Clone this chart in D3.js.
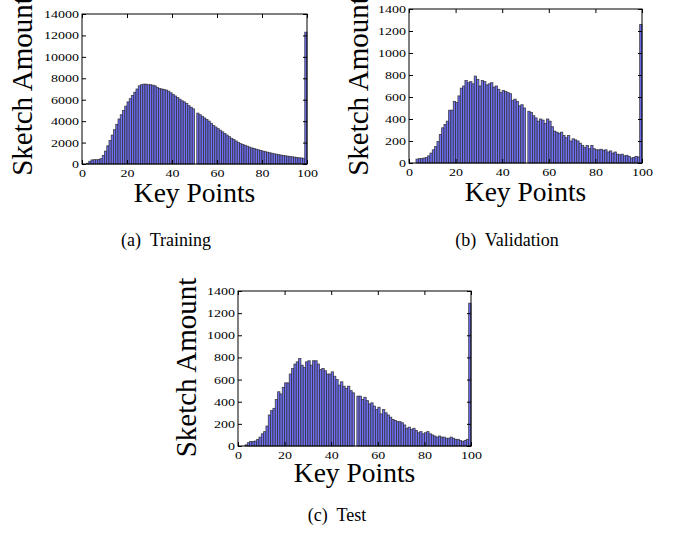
<!DOCTYPE html>
<html>
<head>
<meta charset="utf-8">
<script src="https://cdn.jsdelivr.net/npm/d3@7"></script>
<style>
  body { margin: 0; background: #fff; }
  svg { display: block; }
  text { font-family: "Liberation Serif", "Times New Roman", serif; fill: #000; }
</style>
</head>
<body>
<div id="chart"></div>
<script>
// Histogram counts per key point bin (bin i spans [i, i+1])
const trainCounts = [0,0,60,250,380,400,400,420,500,800,
  1200,1700,2200,2700,3200,3700,4200,4600,5000,5400,
  5800,6100,6400,6700,7000,7300,7400,7450,7450,7400,
  7400,7350,7300,7150,7050,7000,6950,6900,6800,6650,
  6500,6350,6200,6050,5900,5800,5650,5450,5300,5150,
  0,4750,4600,4450,4300,4150,4000,3800,3600,3450,
  3300,3150,3000,2850,2700,2550,2400,2280,2150,2020,
  1900,1820,1740,1660,1580,1500,1440,1380,1320,1260,
  1200,1150,1100,1050,1000,950,910,870,830,790,
  760,730,700,670,640,610,580,560,530,12300];

const valCounts = [0,0,0,35,40,40,45,50,65,90,
  120,150,195,260,320,350,380,480,480,560,
  550,610,680,700,750,730,740,720,790,760,
  700,750,740,710,720,730,690,700,670,640,
  660,650,640,630,570,580,560,520,530,500,
  0,470,460,430,410,380,400,390,360,400,
  380,330,290,280,270,280,250,230,250,200,
  220,210,200,180,160,140,160,130,160,130,
  120,120,125,115,120,100,110,90,100,80,
  75,80,65,70,60,45,50,60,55,1260];

const testCounts = [0,0,0,10,30,40,40,45,60,80,
  110,130,180,280,320,340,420,490,470,530,
  570,570,650,700,740,760,790,730,710,760,
  770,730,770,770,740,690,700,680,650,650,
  670,630,600,550,580,540,520,540,500,480,
  0,450,450,420,440,410,380,390,360,330,
  350,290,330,300,280,260,240,230,220,220,
  210,190,160,170,150,160,140,120,130,110,
  120,130,110,100,90,80,90,80,80,70,
  70,80,70,60,60,50,40,50,60,1290];

const xTicks = [0, 20, 40, 60, 80, 100];
const yTicksLarge = [0, 2000, 4000, 6000, 8000, 10000, 12000, 14000];
const yTicksSmall = [0, 200, 400, 600, 800, 1000, 1200, 1400];
const captions = ["(a)  Training", "(b)  Validation", "(c)  Test"];
const xTitle = "Key Points";
const yTitle = "Sketch Amount";

const width = 675, height = 535;

const svg = d3.select("#chart").append("svg")
  .attr("width", width)
  .attr("height", height);

// panel layout (pixel boxes of each plot area)
const panels = [
  { data: trainCounts, yMax: 14000, yTicks: yTicksLarge, caption: captions[0],
    left: 82, right: 307, top: 14, bottom: 164, yLabelX: 22, yLabelY: 86, titleY: 202, capX: 166, capY: 246 },
  { data: valCounts, yMax: 1400, yTicks: yTicksSmall, caption: captions[1],
    left: 409, right: 642, top: 9, bottom: 163, yLabelX: 358, yLabelY: 86, titleY: 201, capX: 507, capY: 246 },
  { data: testCounts, yMax: 1400, yTicks: yTicksSmall, caption: captions[2],
    left: 238, right: 471, top: 291, bottom: 446, yLabelX: 186, yLabelY: 367.5, titleY: 482, capX: 337, capY: 521 }
];

// stretch tick digits a little, like the reference
function stretchLabels(sel) {
  sel.selectAll(".tick text")
    .attr("textLength", function() { return this.textContent.length * 7; })
    .attr("lengthAdjust", "spacingAndGlyphs");
}

panels.forEach(p => {
  const x = d3.scaleLinear().domain([0, 100]).range([p.left, p.right]);
  const y = d3.scaleLinear().domain([0, p.yMax]).range([p.bottom, p.top]);
  const g = svg.append("g");

  // bars
  g.append("g").selectAll("rect")
    .data(p.data)
    .enter()
    .append("rect")
    .attr("x", (d, i) => x(i))
    .attr("y", d => y(d))
    .attr("width", (d, i) => x(i + 1) - x(i))
    .attr("height", d => y(0) - y(d))
    .attr("fill", "#7070fa")
    .attr("stroke", "#2e2e2e")
    .attr("stroke-opacity", 0.85)
    .attr("stroke-width", 0.85);

  // axes with inward ticks
  const fmt = d3.format("d");
  const bottomAxis = g.append("g")
    .attr("transform", `translate(0,${p.bottom})`)
    .call(d3.axisBottom(x).tickValues(xTicks).tickFormat(fmt).tickSizeInner(-4).tickSizeOuter(0).tickPadding(7));
  const leftAxis = g.append("g")
    .attr("transform", `translate(${p.left},0)`)
    .call(d3.axisLeft(y).tickValues(p.yTicks).tickFormat(fmt).tickSizeInner(-4).tickSizeOuter(0).tickPadding(7));
  g.append("g")
    .attr("transform", `translate(0,${p.top})`)
    .call(d3.axisTop(x).tickValues(xTicks).tickSizeInner(-4).tickSizeOuter(0).tickFormat(""));
  g.append("g")
    .attr("transform", `translate(${p.right},0)`)
    .call(d3.axisRight(y).tickValues(p.yTicks).tickSizeInner(-4).tickSizeOuter(0).tickFormat(""));

  [bottomAxis, leftAxis].forEach(a => {
    a.selectAll(".tick text")
      .style("font-family", "'Liberation Serif', serif")
      .style("font-size", "11px");
    stretchLabels(a);
  });
  bottomAxis.selectAll(".tick text").attr("dy", "0.5em");
  leftAxis.selectAll(".tick text").attr("x", -3);
  g.selectAll(".domain").remove();
  g.selectAll(".tick line").attr("stroke", "#000");

  // frame
  g.append("rect")
    .attr("x", p.left).attr("y", p.top)
    .attr("width", p.right - p.left).attr("height", p.bottom - p.top)
    .attr("fill", "none").attr("stroke", "#000").attr("stroke-width", 1);

  // titles
  g.append("text")
    .attr("x", (p.left + p.right) / 2)
    .attr("y", p.titleY)
    .attr("text-anchor", "middle")
    .style("font-size", "27.5px")
    .text(xTitle);

  g.append("text")
    .attr("transform", `translate(${p.yLabelX},${p.yLabelY}) rotate(-90)`)
    .attr("text-anchor", "middle")
    .attr("dy", "0.35em")
    .style("font-size", "29px")
    .text(yTitle);

  g.append("text")
    .attr("x", p.capX)
    .attr("y", p.capY)
    .attr("text-anchor", "middle")
    .style("font-size", "18px")
    .style("white-space", "pre")
    .text(p.caption);
});
</script>
</body>
</html>
